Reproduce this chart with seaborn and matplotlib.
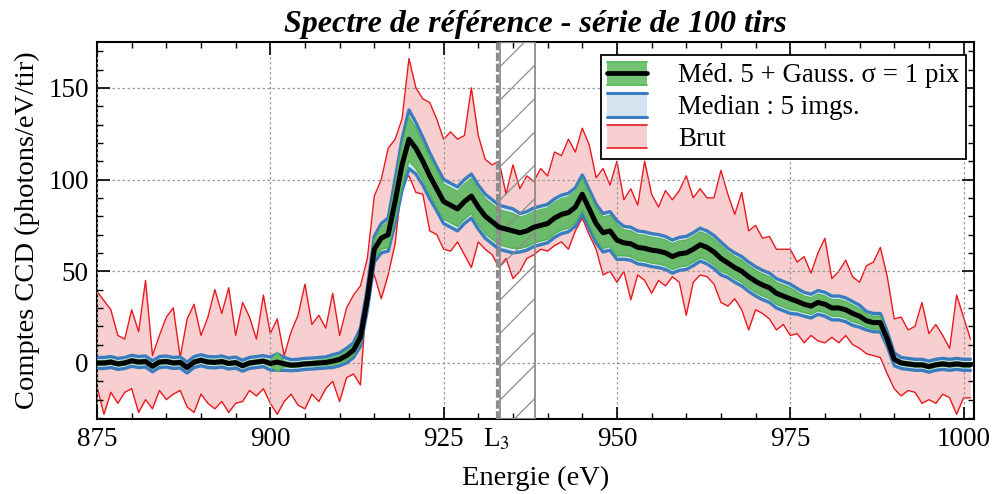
import numpy as np
import pandas as pd
import matplotlib
matplotlib.use("Agg")
import matplotlib.pyplot as plt
import seaborn as sns
from matplotlib.patches import Rectangle
from matplotlib.lines import Line2D
from matplotlib.legend_handler import HandlerBase
from matplotlib.ticker import MultipleLocator

# ---------------------------------------------------------------- data
# energy grid (eV), one sample per eV
energy = list(range(875, 1002))

# Median 5 + Gaussian (sigma = 1 pix) smoothed spectrum
smoothed = [
    0, 0, 0.5, -0.5, 0, 1.2, 0.5, 0.8, -1.8, 0.5,            # 875-884
    0.8, 0, 0.3, -2.5, 0.5, 1.5, 0.5, 0.3, 0.8, -0.3,         # 885-894
    0.2, -1.5, 0, 0.5, 1.0, -0.3, 0.5, -0.5, -1.2, -1.0,      # 895-904
    -0.5, -0.3, 0, 0.3, 1, 2, 4, 7, 14, 35,                   # 905-914
    62, 68, 70, 88, 108, 122, 117, 110, 102, 95,              # 915-924
    88, 86, 84, 88, 91, 85, 80, 77, 74, 73,                   # 925-934
    72, 71, 72, 74, 75, 76, 79, 81, 82, 85,                   # 935-944
    92, 84, 76, 71, 72, 67, 65.5, 65, 63, 62.5,               # 945-954
    61.5, 61, 60, 58, 59.5, 60, 62, 64.5, 63, 60.5,           # 955-964
    57, 54.5, 52, 50, 47, 44.5, 42.5, 41, 38, 36.5,           # 965-974
    35, 33.6, 32, 31, 33, 32, 30, 30, 29, 27,                 # 975-984
    25.5, 23, 22, 22, 13, 2, 0, -0.5, -1, -1,                 # 985-994
    -2, -1, -0.5, -1, -0.5, -1, -1,                           # 995-1001
]

# half-width of the smoothed band (green)
smoothed_half = [
    1.2, 1.2, 1.2, 1.2, 1.2, 1.2, 1.2, 1.2, 1.2, 1.2,
    1.2, 1.2, 1.2, 1.2, 1.2, 1.2, 1.2, 1.2, 1.2, 1.2,
    1.2, 1.2, 1.2, 1.2, 1.2, 1.5, 5, 1.5, 1.2, 1.2,
    1.2, 1.2, 1.5, 1.5, 2, 2, 2.5, 2.5, 3, 4,
    5, 6, 7, 9, 11, 12, 11, 10, 10, 10,
    9.5, 9.5, 9.5, 9.5, 9.5, 9.5, 9.5, 9.5, 9.5, 9.5,
    9.5, 8.5, 8.5, 8.5, 8.5, 8.5, 8.5, 8.5, 8.5, 8.5,
    8.5, 8.5, 8.5, 8.5, 8.5, 8.5, 7, 7, 7, 7,
    7, 7, 7, 7, 7, 7, 7, 7, 7, 7,
    7, 6, 6, 6, 6, 6, 6, 6, 6, 6,
    6, 5, 4.5, 4.5, 4.5, 4.5, 4.5, 4.5, 4.5, 4.5,
    4, 3.5, 3.5, 3.5, 2.5, 1.5, 1.2, 1.2, 1.2, 1.2,
    1.2, 1.2, 1.2, 1.2, 1.2, 1.2, 1.2,
]

# half-width of the 5-image median band (blue)
median_half = [
    3, 3, 3, 3, 3, 3, 3, 3, 3, 3,
    3, 3, 3, 3, 3, 3, 3, 3, 3, 3,
    3, 3, 3, 3, 3, 3.5, 4.5, 3.5, 3, 3,
    3, 3, 3, 3, 3.5, 3.5, 4, 4, 5, 6,
    7, 8, 9, 12, 14, 16, 14, 13, 12.5, 12,
    12, 12, 12, 12, 12, 12, 12, 12, 12, 12,
    12, 10.5, 10.5, 10.5, 10.5, 10.5, 10.5, 10.5, 10.5, 10.5,
    10.5, 10.5, 10.5, 10.5, 10.5, 10.5, 9, 9, 9, 9,
    9, 9, 9, 9, 9, 9, 9, 9, 9, 9,
    9, 8, 8, 8, 8, 8, 8, 8, 8, 8,
    8, 7, 6.5, 6.5, 6.5, 6.5, 6.5, 6.5, 6.5, 6.5,
    6, 5, 5, 5, 4, 3.5, 3, 3, 3, 3,
    3, 3, 3, 3, 3, 3, 3,
]

# raw single-shot envelope (red)
raw_high = [
    39, 34, 29, 15, 13, 29, 17, 45, 4, 15,
    25, 30, 3, 24, 32, 15, 25, 40, 27, 41,
    15, 33, 25, 13, 37, 16, 24, 4, 17, 26,
    43, 21, 26, 19, 38, 15, 30, 37, 42, 57,
    91, 100, 117, 122, 133, 166, 150, 144, 142, 133,
    122, 126, 122, 124, 150, 124, 111, 108, 110, 92,
    108, 95, 102, 99, 106, 102, 115, 113, 122, 115,
    128, 119, 101, 106, 97, 110, 89, 95, 86, 110,
    92, 85, 94, 89, 94, 102, 90, 95, 90, 90,
    105, 92, 81, 93, 72, 75, 68, 69, 62, 62,
    62, 55, 58, 49, 60, 68, 46, 50, 56, 47,
    44, 53, 55, 63, 47, 24, 25, 18, 20, 33,
    16, 21, 15, 8, 37, 25, 13,
]
raw_low = [
    -13, -28, -16, -22, -16, -14, -27, -20, -25, -15,
    -20, -17, -15, -24, -27, -17, -22, -25, -21, -27,
    -22, -21, -15, -18, -14, -22, -28, -21, -17, -23,
    -25, -17, -21, -14, -10, -21, -8, -6, -12, 42,
    48, 35, 48, 65, 99, 102, 93, 92, 72, 70,
    62, 61, 66, 59, 52, 66, 62, 59, 52, 57,
    46, 50, 57, 59, 62, 61, 64, 66, 62, 72,
    79, 70, 62, 48, 50, 44, 50, 34.5, 48, 45,
    38, 45, 42, 47, 44, 26, 44, 48, 47, 43,
    33, 31, 35, 29, 18, 29, 27, 24, 18, 21,
    15, 16, 11, 15, 12, 11, 14, 11, 15, 10,
    8, 5, 4, 3, -6, -14, -18, -15, -16, -22,
    -20, -22, -17, -19, -28, -19, -19,
]

edge_L3 = 932.7              # L3 absorption edge (eV)
masked_band = (933.1, 938.15)  # hatched energy window

labels = ["Méd. 5 + Gauss. σ = 1 pix", "Median : 5 imgs.", "Brut"]
title = "Spectre de référence - série de 100 tirs"
xlabel = "Energie (eV)"
ylabel = "Comptes CCD (photons/eV/tir)"

# ---------------------------------------------------------------- style
sns.set_theme(style="ticks")
plt.rcParams["font.family"] = ["Liberation Serif", "DejaVu Serif"]
plt.rcParams["mathtext.fontset"] = "stix"
plt.rcParams["hatch.color"] = "#7f7f7f"
plt.rcParams["hatch.linewidth"] = 0.9
for key in ("text.color", "axes.labelcolor", "xtick.color", "ytick.color",
            "xtick.labelcolor", "ytick.labelcolor", "axes.edgecolor"):
    plt.rcParams[key] = "black"

RED, PINK = "#e8191f", "#f8cfd0"
BLUE, LBLUE = "#3a7dbf", "#d4e3f0"
GREEN, LGREEN = "#52b552", "#6cba6c"

df = pd.DataFrame({
    "E": energy,
    "s": smoothed,
    "sh": smoothed_half,
    "mh": median_half,
    "hi": raw_high,
    "lo": raw_low,
})

fig = plt.figure(figsize=(9.92, 4.94), dpi=100)
ax = fig.add_axes([0.0978, 0.152, 0.884, 0.763])

# raw envelope
raw_poly = ax.fill_between(df["E"], df["lo"], df["hi"], color=PINK, lw=0, zorder=1)
sns.lineplot(data=df, x="E", y="hi", color=RED, lw=1.0, ax=ax, zorder=2)
sns.lineplot(data=df, x="E", y="lo", color=RED, lw=1.0, ax=ax, zorder=2)

# 5-image median band
m_lo = df["s"] - df["mh"]
m_hi = df["s"] + df["mh"]
med_poly = ax.fill_between(df["E"], m_lo, m_hi, color=LBLUE, lw=0, zorder=3)
ax.plot(df["E"], m_hi, color=BLUE, lw=2.4, zorder=4)
ax.plot(df["E"], m_lo, color=BLUE, lw=2.4, zorder=4)

# smoothed band
g_lo = df["s"] - df["sh"]
g_hi = df["s"] + df["sh"]
sm_poly = ax.fill_between(df["E"], g_lo, g_hi, color=LGREEN, lw=0, zorder=5)
ax.plot(df["E"], g_hi, color=GREEN, lw=1.0, zorder=6)
ax.plot(df["E"], g_lo, color=GREEN, lw=1.0, zorder=6)

# hatched window and L3 edge
ax.axvspan(*masked_band, facecolor="none", edgecolor="#8c8c8c", hatch="/",
           lw=1.3, zorder=7)
ax.axvline(edge_L3, color="#8c8c8c", lw=2.3, ls=(0, (2.6, 0.8)), zorder=7)

# smoothed spectrum
sns.lineplot(data=df, x="E", y="s", color="black", lw=3.6, ax=ax, zorder=8)

# ---------------------------------------------------------------- axes
ax.set_xlim(875, 1001.5)
ax.set_ylim(-30.5, 175)
ax.xaxis.set_major_locator(MultipleLocator(25))
ax.xaxis.set_minor_locator(MultipleLocator(5))
ax.yaxis.set_major_locator(MultipleLocator(50))
ax.yaxis.set_minor_locator(MultipleLocator(10))
ax.tick_params(which="both", direction="in", top=True, right=True,
               labelsize=19.5, colors="black", labelcolor="black", pad=6)
ax.tick_params(which="major", length=9, width=1.2)
ax.tick_params(which="minor", length=4.5, width=1.0)
for sp in ax.spines.values():
    sp.set_linewidth(1.5)
    sp.set_color("black")
ax.grid(True, which="major", color="#9a9a9a", lw=0.9, ls=(0, (2, 2)))
ax.set_axisbelow(False)
for gl in ax.get_xgridlines() + ax.get_ygridlines():
    gl.set_zorder(0.5)

ax.set_xlabel(xlabel, fontsize=20.5, labelpad=10, color="black")
ax.set_ylabel(ylabel, fontsize=20.5, labelpad=6, color="black")
ax.set_title(title, fontsize=23, fontweight="bold", fontstyle="italic",
             pad=7, color="black")

ax.annotate("L$_3$", xy=(edge_L3, 0), xycoords=("data", "axes fraction"),
            xytext=(0, -6), textcoords="offset points",
            ha="center", va="top", fontsize=19.5, color="black")


# legend handles: filled band with top/bottom edges
class BandHandler(HandlerBase):
    def __init__(self, face, edge, edge_lw, mid=None):
        super().__init__()
        self.face, self.edge, self.edge_lw, self.mid = face, edge, edge_lw, mid

    def create_artists(self, legend, orig_handle, xdescent, ydescent,
                       width, height, fontsize, trans):
        x0, y0 = -xdescent, -ydescent
        arts = [Rectangle((x0, y0), width, height, facecolor=self.face,
                          edgecolor="none", transform=trans)]
        for yy in (y0, y0 + height):
            arts.append(Line2D([x0, x0 + width], [yy, yy], color=self.edge,
                               lw=self.edge_lw, transform=trans))
        if self.mid is not None:
            arts.append(Line2D([x0, x0 + width], [y0 + height / 2] * 2,
                               color=self.mid, lw=3.4, transform=trans))
        return arts


leg = ax.legend(
    [sm_poly, med_poly, raw_poly], labels,
    handler_map={
        sm_poly: BandHandler("#74c375", "#5cbf5c", 1.4, mid="black"),
        med_poly: BandHandler(LBLUE, BLUE, 2.2),
        raw_poly: BandHandler(PINK, RED, 1.2),
    },
    loc="upper right", bbox_to_anchor=(0.991, 0.966), borderaxespad=0,
    fontsize=19.4, frameon=True, fancybox=False, framealpha=1,
    edgecolor="black", handlelength=1.48, handleheight=0.95,
    handletextpad=1.14, labelspacing=0.18, borderpad=0.25,
    labelcolor="black",
)
leg.get_frame().set_linewidth(1.3)
leg.set_zorder(10)

fig.savefig("out.png", dpi=100)
